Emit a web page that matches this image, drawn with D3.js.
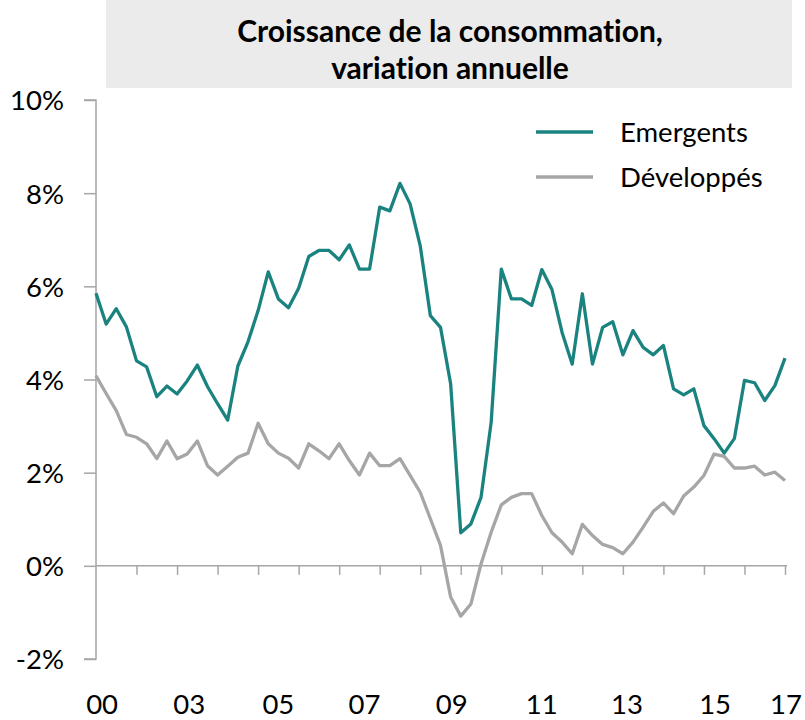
<!DOCTYPE html>
<html>
<head>
<meta charset="utf-8">
<script src="https://cdn.jsdelivr.net/npm/d3@7"></script>
<style>
  body { margin: 0; background: #fff; }
  text { font-family: Lato, "Open Sans", sans-serif; fill: #000; font-variant-ligatures: none; }
</style>
</head>
<body>
<div id="chart"></div>
<script>
// quarterly, 2000Q1 .. 2017Q1
const emergents = [
  5.85, 5.19, 5.52, 5.13, 4.40, 4.27, 3.63, 3.86, 3.69, 3.97,
  4.31, 3.85, 3.48, 3.13, 4.29, 4.81, 5.48, 6.31, 5.73, 5.54,
  5.96, 6.64, 6.77, 6.77, 6.57, 6.89, 6.37, 6.37, 7.70, 7.62,
  8.21, 7.77, 6.87, 5.37, 5.12, 3.91, 0.71, 0.90, 1.47, 3.08,
  6.37, 5.73, 5.73, 5.59, 6.36, 5.93, 5.01, 4.33, 5.84, 4.33,
  5.12, 5.24, 4.53, 5.05, 4.69, 4.53, 4.73, 3.80, 3.67, 3.80,
  3.01, 2.73, 2.42, 2.73, 3.98, 3.93, 3.55, 3.87, 4.46
];
const developpes = [
  4.08, 3.70, 3.33, 2.82, 2.76, 2.62, 2.30, 2.68, 2.30, 2.40,
  2.68, 2.15, 1.95, 2.14, 2.33, 2.42, 3.06, 2.62, 2.42, 2.31,
  2.10, 2.62, 2.47, 2.30, 2.62, 2.26, 1.95, 2.42, 2.15, 2.15,
  2.30, 1.94, 1.58, 1.01, 0.44, -0.67, -1.08, -0.82, 0.04, 0.72,
  1.31, 1.47, 1.55, 1.55, 1.08, 0.71, 0.51, 0.26, 0.89, 0.65,
  0.46, 0.39, 0.26, 0.51, 0.83, 1.17, 1.35, 1.12, 1.50, 1.69,
  1.94, 2.40, 2.35, 2.10, 2.10, 2.14, 1.95, 2.01, 1.83
];
const seriesNames = ["Emergents", "Développés"];
const yTicks = [-2, 0, 2, 4, 6, 8, 10];
// year labels and the quarter index where each one sits
const yearLabels = ["00", "03", "05", "07", "09", "11", "13", "15", "17"];
const yearLabelAt = [0.6, 9.2, 18, 26.5, 35.1, 44, 52.4, 61.1, 68.1];
const titleLines = ["Croissance de la consommation,", "variation annuelle"];

const width = 805;
const height = 720;
const marginLeft = 96;
const plotRight = 785;
const plotTop = 100;
const plotBottom = 659;

const colors = ["#1a8380", "#a6a6a6"];
const axisColor = "#a6a6a6";
const labelSize = "27.5px";

const x = d3.scaleLinear()
    .domain([0, emergents.length - 1])
    .range([marginLeft, plotRight]);

const y = d3.scaleLinear()
    .domain([-2, 10])
    .range([plotBottom, plotTop]);

const svg = d3.create("svg")
    .attr("width", width)
    .attr("height", height);

// title box
svg.append("rect")
    .attr("x", 106)
    .attr("y", 0)
    .attr("width", 686)
    .attr("height", 88)
    .attr("fill", "#ebebeb");

svg.append("g")
  .selectAll("text")
  .data(titleLines)
  .join("text")
    .attr("x", 450)
    .attr("y", (d, i) => 42 + i * 37)
    .attr("text-anchor", "middle")
    .style("font-size", "30px")
    .style("font-weight", "bold")
    .text(d => d);

// y axis
const yAxis = svg.append("g")
    .attr("transform", `translate(${marginLeft},0)`)
    .call(d3.axisLeft(y).tickValues(yTicks).tickSize(12).tickPadding(20)
      .tickFormat(d => d + "%"));
yAxis.select(".domain").attr("stroke", axisColor).attr("stroke-width", 1.5)
    .attr("d", `M-12,${y(10)}H0V${y(-2)}H-12`);
yAxis.selectAll(".tick line").attr("stroke", axisColor).attr("stroke-width", 1.5);
yAxis.selectAll(".tick text")
    .style("font-size", labelSize)
    .attr("dy", "0.36em");

// x axis at 0%
const xAxis = svg.append("g")
    .attr("transform", `translate(0,${y(0)})`)
    .call(d3.axisBottom(x).tickValues(d3.range(4, emergents.length, 4))
      .tickSize(9).tickFormat(""));
xAxis.select(".domain").attr("stroke", axisColor).attr("stroke-width", 1.5)
    .attr("d", `M${marginLeft},0H${plotRight + 2}`);
xAxis.selectAll(".tick line").attr("stroke", axisColor).attr("stroke-width", 1.5);

svg.append("g")
  .selectAll("text")
  .data(yearLabels)
  .join("text")
    .attr("x", (d, i) => x(yearLabelAt[i]))
    .attr("y", 714)
    .attr("text-anchor", "middle")
    .style("font-size", labelSize)
    .text(d => d);

// lines
const line = d3.line()
    .x((d, i) => x(i))
    .y(d => y(d));

svg.append("g")
  .selectAll("path")
  .data([developpes, emergents])
  .join("path")
    .attr("fill", "none")
    .attr("stroke", (d, i) => i === 0 ? colors[1] : colors[0])
    .attr("stroke-width", 3.3)
    .attr("stroke-linejoin", "round")
    .attr("d", line);

// legend
const legend = svg.append("g")
  .selectAll("g")
  .data(seriesNames)
  .join("g")
    .attr("transform", (d, i) => `translate(536,${132 + i * 45})`);
legend.append("line")
    .attr("x1", 0).attr("x2", 57)
    .attr("stroke", (d, i) => colors[i])
    .attr("stroke-width", 3.5);
legend.append("text")
    .attr("x", 84)
    .attr("dy", "0.36em")
    .style("font-size", labelSize)
    .text(d => d);

document.getElementById("chart").append(svg.node());
</script>
</body>
</html>
